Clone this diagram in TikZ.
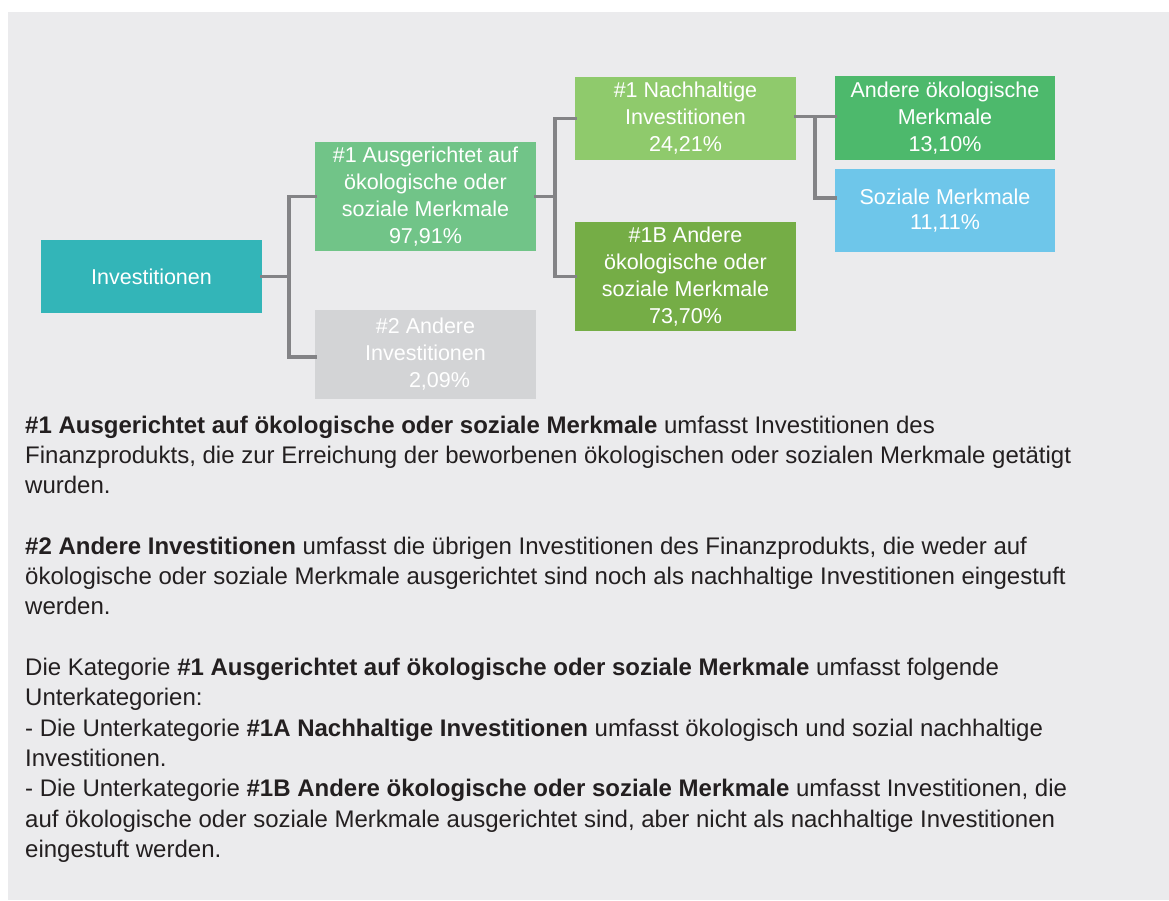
\documentclass[tikz,border=0pt]{standalone}
\usepackage{fontspec}
\setmainfont{Liberation Sans}
\definecolor{panelgray}{RGB}{235,235,237}
\definecolor{linegray}{RGB}{131,131,134}
\definecolor{invteal}{RGB}{51,181,184}
\definecolor{ausgreen}{RGB}{113,196,136}
\definecolor{othgray}{RGB}{211,212,214}
\definecolor{nachgreen}{RGB}{143,202,108}
\definecolor{andgreen}{RGB}{117,173,70}
\definecolor{oekgreen}{RGB}{77,185,108}
\definecolor{sozblue}{RGB}{110,198,234}
\definecolor{bodytext}{RGB}{35,31,32}

\begin{document}
\begin{tikzpicture}[x=1pt,y=-1pt,
  box/.style={minimum width=221pt,inner sep=0pt,text=white,align=center,
    font=\fontsize{21.5}{27}\selectfont},
  conn/.style={draw=linegray,line width=3.7pt,line cap=rect},
  txt/.style={inner sep=0pt,align=left,text=bodytext,
    font=\fontsize{24}{30.3}\selectfont}]
  \useasboundingbox (0,0) rectangle (1169,900);
  \fill[white] (0,0) rectangle (1169,900);
  \fill[panelgray] (8,12) rectangle (1169,900);

  % tree boxes
  \node[box,fill=invteal,minimum height=73pt] (INV) at (151.5,276.5) {Investitionen};
  \node[box,fill=ausgreen,minimum height=109pt] (AUS) at (425.5,196.5)
    {\#1 Ausgerichtet auf\\ökologische oder\\soziale Merkmale\\97,91\%};
  \node[box,fill=othgray,minimum height=89pt] (AND2) at (425.5,354.5)
    {\#2 Andere\\Investitionen\\\hspace*{28pt}2,09\%};
  \node[box,fill=nachgreen,minimum height=83pt] (NACH) at (685.5,118.5)
    {\#1 Nachhaltige\\Investitionen\\24,21\%};
  \node[box,fill=andgreen,minimum height=109pt] (AND1B) at (685.5,276.5)
    {\#1B Andere\\ökologische oder\\soziale Merkmale\\73,70\%};
  \node[box,fill=oekgreen,minimum width=220pt,minimum height=84pt] (OEK) at (945,118)
    {Andere ökologische\\Merkmale\\13,10\%};
  \node[box,fill=sozblue,minimum width=220pt,minimum height=83pt,
    font=\fontsize{21.5}{25}\selectfont] (SOZ) at (945,210.5)
    {Soziale Merkmale\\11,11\%};

  % branch points
  \coordinate (J1) at (289,276.5);
  \coordinate (J2) at (555,196.5);
  \coordinate (J3) at (815,116.5);

  \draw[conn] (INV.east) -- (J1);
  \draw[conn] (J1) |- (AUS.west);
  \draw[conn] (J1) |- ([yshift=-2.5pt]AND2.west);
  \draw[conn] (AUS.east) -- (J2);
  \draw[conn] (J2) |- (NACH.west);
  \draw[conn] (J2) |- (AND1B.west);
  \draw[conn] (NACH.east |- J3) -- (OEK.west |- J3);
  \draw[conn] (J3) |- ([yshift=12.8pt]SOZ.west);

  % explanation
  \node[txt,anchor=north west] (TXT) at (25,415.5)
    {\textbf{\#1 Ausgerichtet auf ökologische oder soziale Merkmale} umfasst Investitionen des\\
     Finanzprodukts, die zur Erreichung der beworbenen ökologischen oder sozialen Merkmale getätigt\\
     wurden.\\[30.3pt]
     \textbf{\#2 Andere Investitionen} umfasst die übrigen Investitionen des Finanzprodukts, die weder auf\\
     ökologische oder soziale Merkmale ausgerichtet sind noch als nachhaltige Investitionen eingestuft\\
     werden.\\[30.3pt]
     Die Kategorie \textbf{\#1 Ausgerichtet auf ökologische oder soziale Merkmale} umfasst folgende\\
     Unterkategorien:\\
     - Die Unterkategorie \textbf{\#1A Nachhaltige Investitionen} umfasst ökologisch und sozial nachhaltige\\
     Investitionen.\\
     - Die Unterkategorie \textbf{\#1B Andere ökologische oder soziale Merkmale} umfasst Investitionen, die\\
     auf ökologische oder soziale Merkmale ausgerichtet sind, aber nicht als nachhaltige Investitionen\\
     eingestuft werden.};
\end{tikzpicture}
\end{document}
